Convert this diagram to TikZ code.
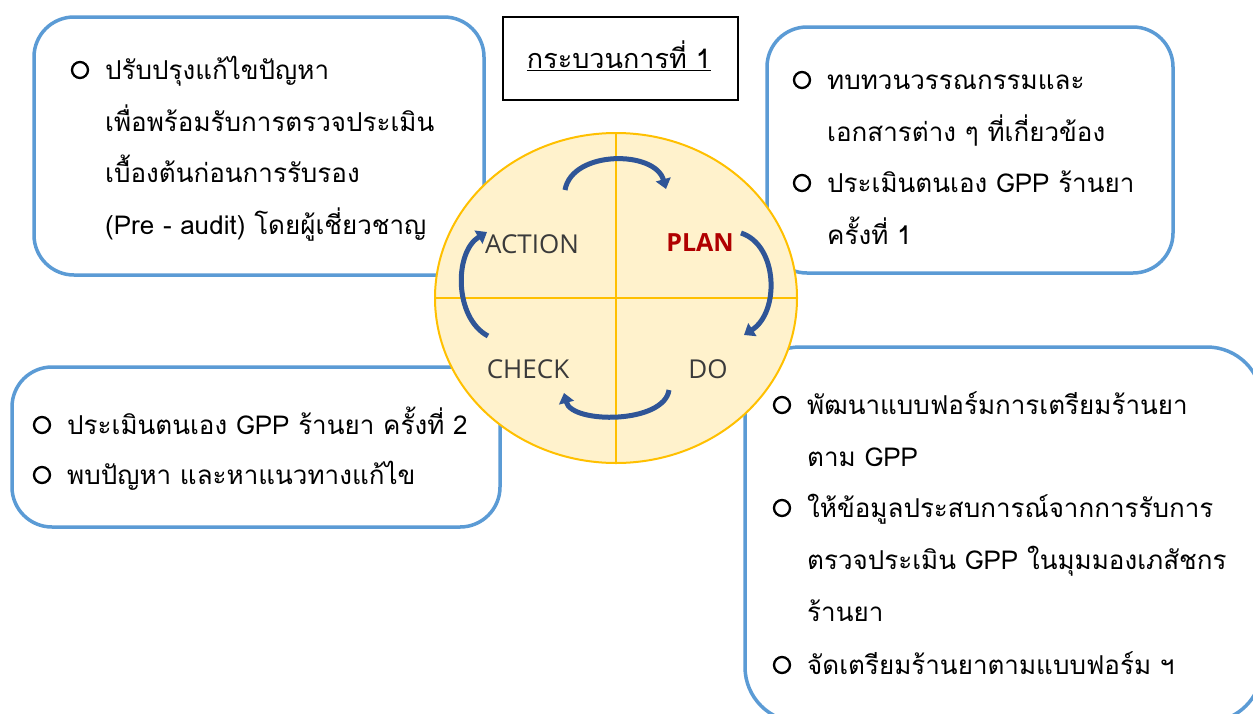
\documentclass[tikz,border=0pt]{standalone}
\usepackage{fontspec}
\newfontfamily\thaifont[Script=Thai]{Loma}
\newfontfamily\labfont{Open Sans}
\usetikzlibrary{arrows.meta}
\definecolor{boxblue}{HTML}{5B9BD5}
\definecolor{gold}{HTML}{FFC000}
\definecolor{cream}{HTML}{FFF2CC}
\definecolor{arrblue}{HTML}{2F5597}
\definecolor{plancol}{HTML}{B00000}
\definecolor{labgray}{HTML}{3A3A3A}
\begin{document}
\begin{tikzpicture}[x=1pt,y=-1pt,
  panel/.style={draw=boxblue,line width=3.5pt,fill=white,rounded corners=40pt},
  bul/.style={circle,draw=black,line width=2.3pt,minimum size=16pt,inner sep=0pt},
  txt/.style={anchor=base west,inner sep=0pt,font=\thaifont\fontsize{26}{30}\selectfont},
  lab/.style={font=\labfont\fontsize{26}{30}\selectfont,text=labgray,inner sep=0pt},
  cyc/.style={draw=arrblue,line width=5pt,-{Triangle[width=15pt,length=10pt]}}]
\clip (0,0) rectangle (1253,713);
\fill[white] (0,0) rectangle (1253,713);

% panels
\draw[panel] (34,17) rectangle (484,275);
\draw[panel] (767,27) rectangle (1173,273);
\draw[panel] (12,367) rectangle (500,527);
\draw[panel,rounded corners=55pt] (745,347) rectangle (1262,722);

% title
\node[draw=black,line width=1.5pt,fill=white,minimum width=235pt,minimum height=83pt,inner sep=0pt] (title) at (620.5,58.5) {};
\node[font=\thaifont\fontsize{27}{30}\selectfont,inner sep=0pt] (titletext) at (619,56) {\underline{กระบวนการที่ 1}};

% box 1
\node[bul] (b11) at (80,70) {};
\node[txt] (t11) at (105,79) {ปรับปรุงแก้ไขปัญหา};
\node[txt] (t12) at (105,131) {เพื่อพร้อมรับการตรวจประเมิน};
\node[txt] (t13) at (105,182) {เบื้องต้นก่อนการรับรอง};
\node[txt] (t14) at (105,234) {(Pre - audit) โดยผู้เชี่ยวชาญ};

% box 2
\node[bul] (b21) at (802,80) {};
\node[txt] (t21) at (827,89) {ทบทวนวรรณกรรมและ};
\node[txt] (t22) at (827,141) {เอกสารต่าง ๆ ที่เกี่ยวข้อง};
\node[bul] (b22) at (802,183) {};
\node[txt] (t23) at (827,192) {ประเมินตนเอง GPP ร้านยา};
\node[txt] (t24) at (827,244) {ครั้งที่ 1};

% box 3
\node[bul] (b31) at (42,425) {};
\node[txt] (t31) at (67,434) {ประเมินตนเอง GPP ร้านยา ครั้งที่ 2};
\node[bul] (b32) at (42,475) {};
\node[txt] (t32) at (67,484) {พบปัญหา และหาแนวทางแก้ไข};

% box 4
\node[bul] (b41) at (782,405) {};
\node[txt] (t41) at (807,414) {พัฒนาแบบฟอร์มการเตรียมร้านยา};
\node[txt] (t42) at (807,466) {ตาม GPP};
\node[bul] (b42) at (782,508) {};
\node[txt] (t43) at (807,517) {ให้ข้อมูลประสบการณ์จากการรับการ};
\node[txt] (t44) at (807,569) {ตรวจประเมิน GPP ในมุมมองเภสัชกร};
\node[txt] (t45) at (807,621) {ร้านยา};
\node[bul] (b43) at (782,665) {};
\node[txt] (t46) at (807,674) {จัดเตรียมร้านยาตามแบบฟอร์ม ฯ};

% cycle circle
\draw[draw=gold,line width=2pt,fill=cream] (616,298) ellipse [x radius=181, y radius=165];
\coordinate (ct) at (616,133);
\coordinate (cb) at (616,463);
\coordinate (cl) at (435,298);
\coordinate (cr) at (797,298);
\draw[gold,line width=2pt] (ct) -- (cb);
\draw[gold,line width=2pt] (cl) -- (cr);

\node[lab] (action) at (532,244) {ACTION};
\node[lab,text=plancol,font=\labfont\bfseries\fontsize{25}{30}\selectfont] (plan) at (700,243) {PLAN};
\node[lab] (check) at (528,369) {CHECK};
\node[lab] (do) at (708,369) {DO};

% arrows
\coordinate (a1s) at (565,190);
\coordinate (a1e) at (666,189);
\coordinate (a2s) at (741,233);
\coordinate (a2e) at (744,335);
\coordinate (a3s) at (669,390);
\coordinate (a3e) at (564,393);
\coordinate (a4s) at (488,336);
\coordinate (a4e) at (487,232);
\draw[cyc] (a1s) .. controls (572,150) and (655,150) .. (a1e);
\draw[cyc] (a2s) .. controls (778,245) and (780,312) .. (a2e);
\draw[cyc] (a3s) .. controls (664,424) and (572,424) .. (a3e);
\draw[cyc] (a4s) .. controls (454,318) and (454,252) .. (a4e);
\end{tikzpicture}
\end{document}
